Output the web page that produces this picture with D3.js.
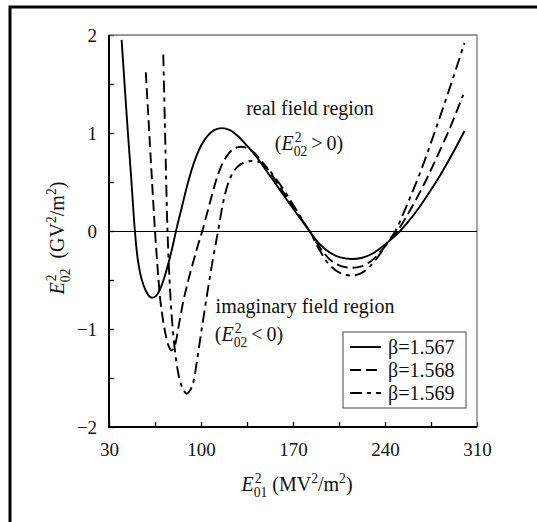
<!DOCTYPE html>
<html>
<head>
<meta charset="utf-8">
<script src="https://cdn.jsdelivr.net/npm/d3@7"></script>
<style>
  html, body { margin: 0; padding: 0; background: #fff; }
  svg text { font-family: "Liberation Serif", "Times New Roman", serif; fill: #111; white-space: pre; }
</style>
</head>
<body>
<svg id="chart"></svg>
<script>
// E01^2 (MV^2/m^2) vs E02^2 (GV^2/m^2)
const beta1567 = [
  [39.6, 1.95], [42, 1.47], [44.5, 0.98], [47, 0.52], [49.7, 0], [52, -0.3], [55, -0.5],
  [58, -0.61], [61, -0.67], [63.5, -0.68], [66, -0.66], [69, -0.59], [72, -0.48], [75, -0.34],
  [78, -0.18], [81, 0], [85, 0.22], [90, 0.49], [95, 0.71], [100, 0.87], [105, 0.97],
  [110, 1.03], [116, 1.05], [122, 1.03], [128, 0.97], [135, 0.87], [142, 0.76], [150, 0.61],
  [160, 0.42], [170, 0.23], [176, 0.12], [182.5, 0], [190, -0.13], [198, -0.22], [206, -0.27],
  [214, -0.285], [222, -0.275], [230, -0.235], [238, -0.16], [245, -0.08], [251.5, 0],
  [258, 0.1], [266, 0.24], [274, 0.4], [282, 0.57], [291, 0.78], [300.5, 1.02]
];
const beta1568 = [
  [58, 1.62], [60, 1.15], [62, 0.68], [63.5, 0.33], [65, 0], [67, -0.38], [69, -0.7],
  [71, -0.9], [73, -1.05], [75, -1.16], [77.5, -1.22], [80, -1.17], [83, -0.97], [86.5, -0.72],
  [90, -0.52], [94, -0.32], [98, -0.13], [101, 0], [105, 0.2], [109, 0.4], [113, 0.58],
  [118, 0.73], [124, 0.83], [130, 0.86], [136, 0.84], [142, 0.78], [148, 0.68], [155, 0.55],
  [162, 0.41], [170, 0.25], [176, 0.13], [182.5, 0], [190, -0.16], [198, -0.29], [206, -0.355],
  [214, -0.375], [222, -0.36], [230, -0.3], [238, -0.19], [244, -0.09], [249.5, 0],
  [256, 0.14], [264, 0.33], [272, 0.54], [280, 0.77], [290, 1.07], [299.5, 1.39]
];
const beta1569 = [
  [71.3, 1.8], [72.5, 1.1], [73.5, 0.52], [74.5, 0], [76, -0.48], [77.6, -0.85], [80, -1.2],
  [82, -1.4], [84, -1.53], [86.5, -1.62], [89, -1.66], [91.5, -1.63], [94, -1.55], [97, -1.32],
  [100, -1.05], [104, -0.7], [108.5, -0.33], [113, 0], [117, 0.3], [121, 0.5], [125, 0.61],
  [130, 0.68], [138, 0.715], [145, 0.7], [150, 0.65], [155, 0.57], [162, 0.44], [170, 0.27],
  [176, 0.14], [182.5, 0], [190, -0.19], [198, -0.35], [206, -0.43], [214, -0.455],
  [222, -0.43], [230, -0.34], [238, -0.2], [243, -0.1], [248, 0], [254, 0.18], [260, 0.37],
  [268, 0.64], [276, 0.94], [284, 1.25], [292, 1.57], [300.5, 1.92]
];
const seriesNames = ["β=1.567", "β=1.568", "β=1.569"];
const xMajor = [30, 100, 170, 240, 310];
const xMinor = [65, 135, 205, 275];
const yMajor = [-2, -1, 0, 1, 2];
const yMinor = [-1.5, -0.5, 0.5, 1.5];

const W = 537, H = 522;
const plotL = 109, plotR = 477, plotT = 35, plotB = 427;

const svg = d3.select("#chart").attr("width", W).attr("height", H);

// outer frame (only left and top edges show)
svg.append("path")
  .attr("d", `M10,${H} V7 H${W}`)
  .attr("fill", "none").attr("stroke", "#000").attr("stroke-width", 3);

const x = d3.scaleLinear().domain([30, 310]).range([plotL, plotR]);
const y = d3.scaleLinear().domain([-2, 2]).range([plotB, plotT]);

// axes
const fmt = d => d < 0 ? "\u2212" + Math.abs(d) : String(d);
svg.append("g").attr("transform", `translate(0,${plotB})`)
  .call(d3.axisBottom(x).tickValues(xMajor).tickFormat(fmt).tickSize(-5).tickPadding(16));
svg.append("g").attr("transform", `translate(0,${plotB})`)
  .call(d3.axisBottom(x).tickValues(xMinor).tickFormat("").tickSize(-5));
svg.append("g").attr("transform", `translate(${plotL},0)`)
  .call(d3.axisLeft(y).tickValues(yMajor).tickFormat(fmt).tickSize(-5).tickPadding(12));
svg.append("g").attr("transform", `translate(${plotL},0)`)
  .call(d3.axisLeft(y).tickValues(yMinor).tickFormat("").tickSize(-5));
svg.selectAll(".domain").remove();
svg.selectAll(".tick line").attr("stroke", "#000").attr("stroke-width", 1.3);
svg.selectAll(".tick text").attr("font-size", 19).attr("fill", null);
svg.selectAll("g").filter(function () { return this.hasAttribute("font-family"); })
  .attr("font-family", null).attr("font-size", null);

// plot frame: top/right thin grey, left/bottom black
svg.append("path").attr("d", `M${plotL},${plotT} H${plotR} V${plotB}`)
  .attr("fill", "none").attr("stroke", "#777").attr("stroke-width", 1.3);
svg.append("path").attr("d", `M${plotL},${plotT} V${plotB} H${plotR}`)
  .attr("fill", "none").attr("stroke", "#000").attr("stroke-width", 2);

// zero line (half-pixel offset keeps it crisp)
svg.append("line")
  .attr("x1", x(30)).attr("x2", x(310)).attr("y1", y(0) + 0.5).attr("y2", y(0) + 0.5)
  .attr("stroke", "#000").attr("stroke-width", 1);

// curves
const dashes = [null, "11,5", "12,5,4,5"];
const line = d3.line().x(d => x(d[0])).y(d => y(d[1])).curve(d3.curveCatmullRom.alpha(0.5));
[beta1567, beta1568, beta1569].forEach((s, i) => {
  svg.append("path").datum(s)
    .attr("d", line)
    .attr("fill", "none").attr("stroke", "#000").attr("stroke-width", 1.9)
    .attr("stroke-dasharray", dashes[i]);
});

// text pieces: plain {t}, superscript {sup}, stacked E^2 with subscript {E}
function richText(parent, parts, size) {
  const g = parent.append("g");
  let cx = 0;
  const s = size * 0.68;
  parts.forEach(p => {
    if (p.E) {
      const e = g.append("text").attr("x", cx).attr("font-size", size)
        .attr("font-style", "italic").text("E");
      cx += e.node().getComputedTextLength() + 1;
      const sup = g.append("text").attr("x", cx).attr("y", -size * 0.4).attr("font-size", s).text("2");
      const sub = g.append("text").attr("x", cx - 1).attr("y", size * 0.3).attr("font-size", s).text(p.E);
      cx += Math.max(sup.node().getComputedTextLength(), sub.node().getComputedTextLength() - 1);
    } else if (p.sup) {
      const t = g.append("text").attr("x", cx).attr("y", -size * 0.38).attr("font-size", s).text(p.sup);
      cx += t.node().getComputedTextLength();
    } else {
      const t = g.append("text").attr("x", cx).attr("font-size", size).text(p.t);
      cx += t.node().getComputedTextLength();
    }
  });
  return { g, w: cx };
}
function placeCentered(parts, size, cx, cy, rotate) {
  const r = richText(svg, parts, size);
  const rot = rotate ? ` rotate(${rotate})` : "";
  r.g.attr("transform", `translate(${cx},${cy})${rot} translate(${-r.w / 2},0)`);
}

placeCentered([{ t: "real field region" }], 20, 310, 115);
placeCentered([{ t: "(" }, { E: "02" }, { t: "\u2009>\u20090)" }], 20, 309, 150);
placeCentered([{ t: "imaginary field region" }], 20, 305, 313);
placeCentered([{ t: "(" }, { E: "02" }, { t: "\u2009<\u20090)" }], 20, 249, 341);

// axis titles
placeCentered([{ E: "01" }, { t: " (MV" }, { sup: "2" }, { t: "/m" }, { sup: "2" }, { t: ")" }], 20, 297, 491);
placeCentered([{ E: "02" }, { t: "  (GV" }, { sup: "2" }, { t: "/m" }, { sup: "2" }, { t: ")" }], 20, 64, 238, -90);

// legend
const lg = svg.append("g");
lg.append("rect").attr("x", 343).attr("y", 332).attr("width", 123).attr("height", 76)
  .attr("fill", "#fff").attr("stroke", "#666").attr("stroke-width", 1.2);
seriesNames.forEach((name, i) => {
  const ly = 347 + i * 23;
  lg.append("line").attr("x1", 350).attr("x2", 381).attr("y1", ly).attr("y2", ly)
    .attr("stroke", "#000").attr("stroke-width", 1.9).attr("stroke-dasharray", dashes[i]);
  lg.append("text").attr("x", 388).attr("y", ly).attr("dy", "0.35em")
    .attr("font-size", 20).text(name);
});
</script>
</body>
</html>
